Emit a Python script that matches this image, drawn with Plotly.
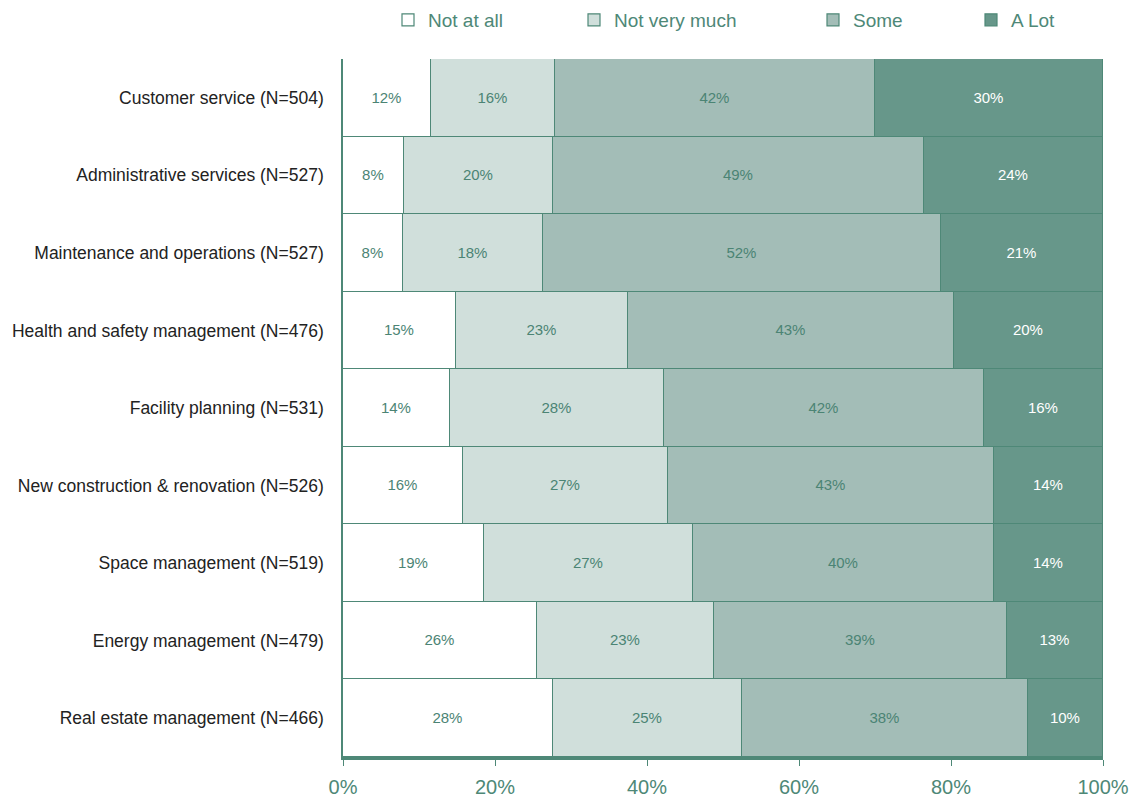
import plotly.graph_objects as go

categories = [
    "Customer service (N=504)",
    "Administrative services (N=527)",
    "Maintenance and operations (N=527)",
    "Health and safety management (N=476)",
    "Facility planning (N=531)",
    "New construction & renovation (N=526)",
    "Space management (N=519)",
    "Energy management (N=479)",
    "Real estate management (N=466)",
]
not_at_all = [11.6, 8.0, 7.9, 14.9, 14.1, 15.8, 18.6, 25.5, 27.6]
not_very_much = [16.3, 19.6, 18.4, 22.6, 28.1, 26.9, 27.4, 23.3, 24.9]
some = [42.1, 48.8, 52.4, 42.9, 42.1, 43.0, 39.7, 38.6, 37.6]
a_lot = [30.0, 23.6, 21.3, 19.6, 15.7, 14.3, 14.3, 12.6, 9.9]

series = [
    ("Not at all", not_at_all, "#FFFFFF", "#4B8474"),
    ("Not very much", not_very_much, "#D0DFDB", "#4B8474"),
    ("Some", some, "#A3BDB7", "#4B8474"),
    ("A Lot", a_lot, "#67978A", "#FFFFFF"),
]

GREEN = "#4E8877"
FONT = "Liberation Sans, Arial, sans-serif"
legend_px = [388, 574, 813, 971]  # left edge of each legend (pixels)

fig = go.Figure()
for i, (name, vals, color, tcolor) in enumerate(series):
    fig.add_trace(go.Bar(
        y=categories, x=vals, name=name, orientation="h",
        marker=dict(color=color, line=dict(color=GREEN, width=1.2)),
        text=vals, texttemplate="%{x:.0f}%", textposition="inside",
        insidetextanchor="middle",
        textfont=dict(color=tcolor, size=15, family=FONT),
        legend="legend" if i == 0 else f"legend{i+1}",
        hoverinfo="skip",
    ))

L, R, T, B = 343, 30, 59, 48
W = 1133 - L - R
H = 805 - T - B
legend_common = dict(
    orientation="h", yanchor="middle", xanchor="left",
    font=dict(color=GREEN, size=19, family=FONT),
    bgcolor="rgba(0,0,0,0)", itemclick=False,
)
layout_legends = {}
for i, px in enumerate(legend_px):
    key = "legend" if i == 0 else f"legend{i+1}"
    d = dict(legend_common)
    d["x"] = (px - L) / W
    d["y"] = 1.0 + (T - 20) / H
    layout_legends[key] = d

fig.update_layout(
    width=1133, height=805,
    margin=dict(l=L, r=R, t=T, b=B, autoexpand=False),
    barmode="stack", bargap=0,
    plot_bgcolor="white", paper_bgcolor="white",
    showlegend=True,
    xaxis=dict(
        range=[0, 100], tickvals=[0, 20, 40, 60, 80, 100],
        ticktext=["0%", "20%", "40%", "60%", "80%", "100%"],
        showgrid=False, zeroline=False,
        showline=True, linecolor=GREEN, linewidth=2.5,
        ticks="outside", ticklen=6, tickcolor=GREEN, tickwidth=1,
        tickfont=dict(color=GREEN, size=20, family=FONT),
        ticklabelstandoff=4,
        fixedrange=True,
    ),
    yaxis=dict(
        autorange="reversed", showgrid=False, zeroline=False,
        showline=True, linecolor=GREEN, linewidth=1.5,
        ticks="", ticklabelstandoff=14,
        tickfont=dict(color="#222222", size=17.5, family=FONT),
        fixedrange=True,
    ),
    **layout_legends,
)

fig.write_html("out.html")
